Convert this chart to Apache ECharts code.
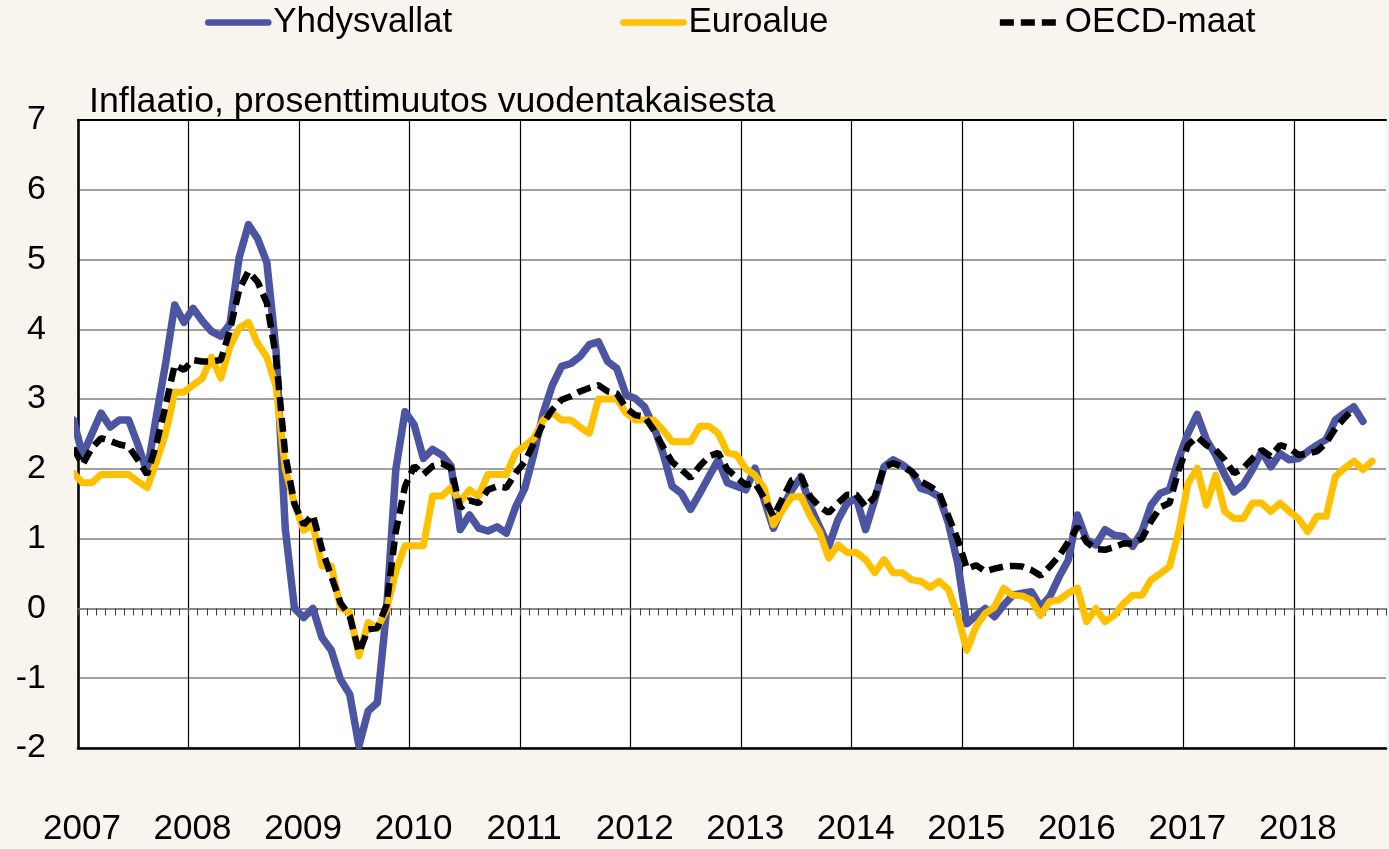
<!DOCTYPE html>
<html>
<head>
<meta charset="utf-8">
<script src="https://cdn.jsdelivr.net/npm/echarts@6/dist/echarts.min.js"></script>
<style>
  html, body { margin: 0; padding: 0; background: #f8f4ee; }
  #main { width: 1389px; height: 849px; }
</style>
</head>
<body>
<div id="main"></div>
<script>
// monthly values, first entry = Dec 2006 (clipped at the left edge), then Jan 2007 onwards
const yhdysvallat = [
  2.7,
  2.2, 2.5, 2.8, 2.6, 2.7, 2.7, 2.35, 1.95, 2.75, 3.5, 4.35, 4.1,
  4.3, 4.12, 3.97, 3.9, 4.08, 5.03, 5.5, 5.3, 4.96, 3.7, 1.15, 0.0,
  -0.13, 0.0, -0.42, -0.6, -1.02, -1.23, -1.97, -1.47, -1.35, -0.02, 1.99, 2.82,
  2.63, 2.15, 2.28, 2.2, 2.04, 1.13, 1.34, 1.15, 1.11, 1.17, 1.08, 1.45,
  1.72, 2.22, 2.8, 3.2, 3.47, 3.51, 3.61, 3.78, 3.82, 3.54, 3.44, 3.06,
  3.01, 2.89, 2.61, 2.23, 1.75, 1.65, 1.42, 1.65, 1.89, 2.13, 1.8, 1.75,
  1.7, 2.01, 1.55, 1.15, 1.46, 1.7, 1.89, 1.46, 1.17, 0.89, 1.27, 1.51,
  1.58, 1.13, 1.56, 2.03, 2.13, 2.06, 1.96, 1.72, 1.68, 1.6, 1.22, 0.65,
  -0.22, -0.1, 0.0, -0.12, 0.05, 0.19, 0.22, 0.24, 0.02, 0.17, 0.45, 0.69,
  1.34, 0.98, 0.91, 1.13, 1.05, 1.03, 0.89, 1.1, 1.48, 1.65, 1.7, 2.15,
  2.51, 2.78, 2.42, 2.2, 1.91, 1.67, 1.77, 1.99, 2.25, 2.03, 2.22, 2.13,
  2.15, 2.25, 2.34, 2.42, 2.7, 2.8, 2.89, 2.68
];
const euroalue = [
  1.94,
  1.8, 1.8, 1.92, 1.92, 1.92, 1.92, 1.82, 1.73, 2.1, 2.5, 3.1, 3.1,
  3.2, 3.3, 3.6, 3.3, 3.75, 4.02, 4.1, 3.8, 3.6, 3.18, 2.0, 1.5,
  1.12, 1.2, 0.61, 0.61, 0.01, -0.06, -0.68, -0.2, -0.28, -0.02, 0.53, 0.9,
  0.9, 0.9, 1.61, 1.61, 1.73, 1.53, 1.7, 1.61, 1.92, 1.92, 1.92, 2.23,
  2.33, 2.44, 2.7, 2.8, 2.7, 2.7, 2.6, 2.51, 3.0, 3.0, 3.0, 2.8,
  2.7, 2.7, 2.7, 2.56, 2.39, 2.39, 2.39, 2.61, 2.61, 2.51, 2.23, 2.2,
  2.0, 1.91, 1.72, 1.2, 1.41, 1.6, 1.6, 1.32, 1.1, 0.72, 0.91, 0.8,
  0.8, 0.7, 0.51, 0.7, 0.51, 0.51, 0.41, 0.39, 0.3, 0.39, 0.27, -0.1,
  -0.6, -0.26, -0.07, 0.02, 0.29, 0.19, 0.18, 0.12, -0.1, 0.1, 0.12, 0.22,
  0.29, -0.19, 0.0, -0.19, -0.1, 0.07, 0.19, 0.19, 0.41, 0.5, 0.6, 1.1,
  1.79, 2.01, 1.48, 1.91, 1.39, 1.29, 1.29, 1.51, 1.51, 1.39, 1.51, 1.39,
  1.29, 1.1, 1.32, 1.32, 1.89, 2.01, 2.11, 1.99, 2.11
];
const oecdMaat = [
  2.3,
  2.06, 2.3, 2.44, 2.4, 2.35, 2.32, 2.13, 1.92, 2.35, 2.9, 3.49, 3.42,
  3.56, 3.54, 3.54, 3.56, 3.99, 4.57, 4.83, 4.68, 4.38, 3.6, 2.2, 1.5,
  1.2, 1.34, 0.84, 0.46, 0.08, -0.11, -0.63, -0.3, -0.28, 0.05, 1.1, 1.75,
  2.04, 1.92, 2.04, 2.08, 2.01, 1.44, 1.55, 1.51, 1.7, 1.75, 1.73, 1.94,
  2.1, 2.37, 2.65, 2.85, 2.99, 3.04, 3.11, 3.16, 3.2, 3.11, 3.08, 2.87,
  2.77, 2.75, 2.56, 2.32, 2.1, 1.99, 1.87, 2.04, 2.18, 2.23, 1.99, 1.88,
  1.77, 1.8, 1.58, 1.32, 1.58, 1.84, 1.89, 1.6, 1.46, 1.37, 1.51, 1.63,
  1.63, 1.46, 1.6, 2.03, 2.08, 2.03, 1.96, 1.82, 1.75, 1.65, 1.32, 0.99,
  0.57, 0.62, 0.53, 0.57, 0.6, 0.61, 0.6, 0.55, 0.47, 0.6, 0.75, 0.95,
  1.17, 0.95, 0.85, 0.84, 0.88, 0.93, 0.93, 1.0, 1.25, 1.45, 1.51, 1.99,
  2.34, 2.46, 2.34, 2.27, 2.13, 1.94, 2.01, 2.15, 2.27, 2.18, 2.34, 2.3,
  2.2, 2.22, 2.25, 2.37, 2.58, 2.73, 2.87
];
const firstYear = 2007;
const monthCount = 142;          // Jan 2007 .. Oct 2018
const yTicks = [-2, 7];

const font = 'Liberation Sans, Arial, sans-serif';

// month centre: Dec 2006 -> -0.5, Jan 2007 -> 0.5, ...
function toPoints(arr) {
  return arr.map((v, k) => [k - 0.5, v]);
}

// year lines black, the extra line at the right edge (max) hidden
const yearLineColors = [];
for (let v = 0; v < monthCount; v += 12) yearLineColors.push('#000');
yearLineColors.push('rgba(0,0,0,0)');

const chart = echarts.init(document.getElementById('main'));

chart.setOption({
  backgroundColor: '#f8f4ee',
  animation: false,
  title: {
    text: 'Inflaatio, prosenttimuutos vuodentakaisesta',
    left: 89,
    top: 84,
    padding: 0,
    textStyle: { fontFamily: font, fontSize: 35.7, fontWeight: 'normal', color: '#000' }
  },
  legend: {
    top: 5,
    left: 205,
    padding: 0,
    itemWidth: 60,
    itemHeight: 14,
    itemGap: 168,
    textStyle: { fontFamily: font, fontSize: 35, color: '#000' },
    itemStyle: { opacity: 0 },
    lineStyle: { width: 6.5 },
    data: ['Yhdysvallat', 'Euroalue', 'OECD-maat']
  },
  grid: {
    left: 78,
    right: 0,
    top: 120,
    bottom: 101,
    show: true,
    backgroundColor: '#ffffff',
    borderColor: 'rgba(0,0,0,0)',
    borderWidth: 0
  },
  xAxis: [
    {
      type: 'value',
      min: 0,
      max: monthCount,
      interval: 12,
      axisLine: { show: true, onZero: false, lineStyle: { color: '#000', width: 2.5 } },
      axisTick: { show: false },
      splitLine: { show: true, showMaxLine: false, lineStyle: { color: yearLineColors, width: 1.2 } },
      axisLabel: {
        margin: 64,
        padding: [0, 0, 0, 8],
        fontFamily: font,
        fontSize: 35,
        color: '#000',
        formatter: function (v) {
          return v % 12 === 0 && v < monthCount ? String(firstYear + v / 12) : '';
        }
      }
    },
    {
      type: 'value',
      min: 0,
      max: monthCount,
      interval: 1,
      axisLine: { show: true, onZero: true, lineStyle: { color: '#808080', width: 1.5 } },
      axisTick: { show: true, inside: true, length: 7, lineStyle: { color: '#404040', width: 1 } },
      splitLine: { show: false },
      axisLabel: { show: false }
    },
    {
      type: 'value',
      position: 'top',
      min: 0,
      max: monthCount,
      axisLine: { show: true, onZero: false, lineStyle: { color: '#000', width: 2 } },
      axisTick: { show: false },
      splitLine: { show: false },
      axisLabel: { show: false }
    }
  ],
  yAxis: {
    type: 'value',
    min: yTicks[0],
    max: yTicks[1],
    interval: 1,
    axisLine: { show: true, lineStyle: { color: '#000', width: 2.5 } },
    axisTick: { show: false },
    splitLine: { show: true, lineStyle: { color: '#808080', width: 1.5 } },
    axisLabel: {
      margin: 32,
      fontFamily: font,
      fontSize: 34,
      color: '#000'
    }
  },
  series: [
    {
      name: 'Yhdysvallat',
      type: 'line',
      xAxisIndex: 0,
      symbol: 'none',
      lineStyle: { color: '#4b55a2', width: 7.5, cap: 'round', join: 'round' },
      itemStyle: { color: '#4b55a2' },
      data: toPoints(yhdysvallat)
    },
    {
      name: 'Euroalue',
      type: 'line',
      xAxisIndex: 0,
      symbol: 'none',
      lineStyle: { color: '#ffc000', width: 7, cap: 'round', join: 'round' },
      itemStyle: { color: '#ffc000' },
      data: toPoints(euroalue)
    },
    {
      name: 'OECD-maat',
      type: 'line',
      xAxisIndex: 0,
      symbol: 'none',
      lineStyle: { color: '#000', width: 6.5, type: [14, 7] },
      itemStyle: { color: '#000' },
      data: toPoints(oecdMaat)
    }
  ]
});
</script>
</body>
</html>
